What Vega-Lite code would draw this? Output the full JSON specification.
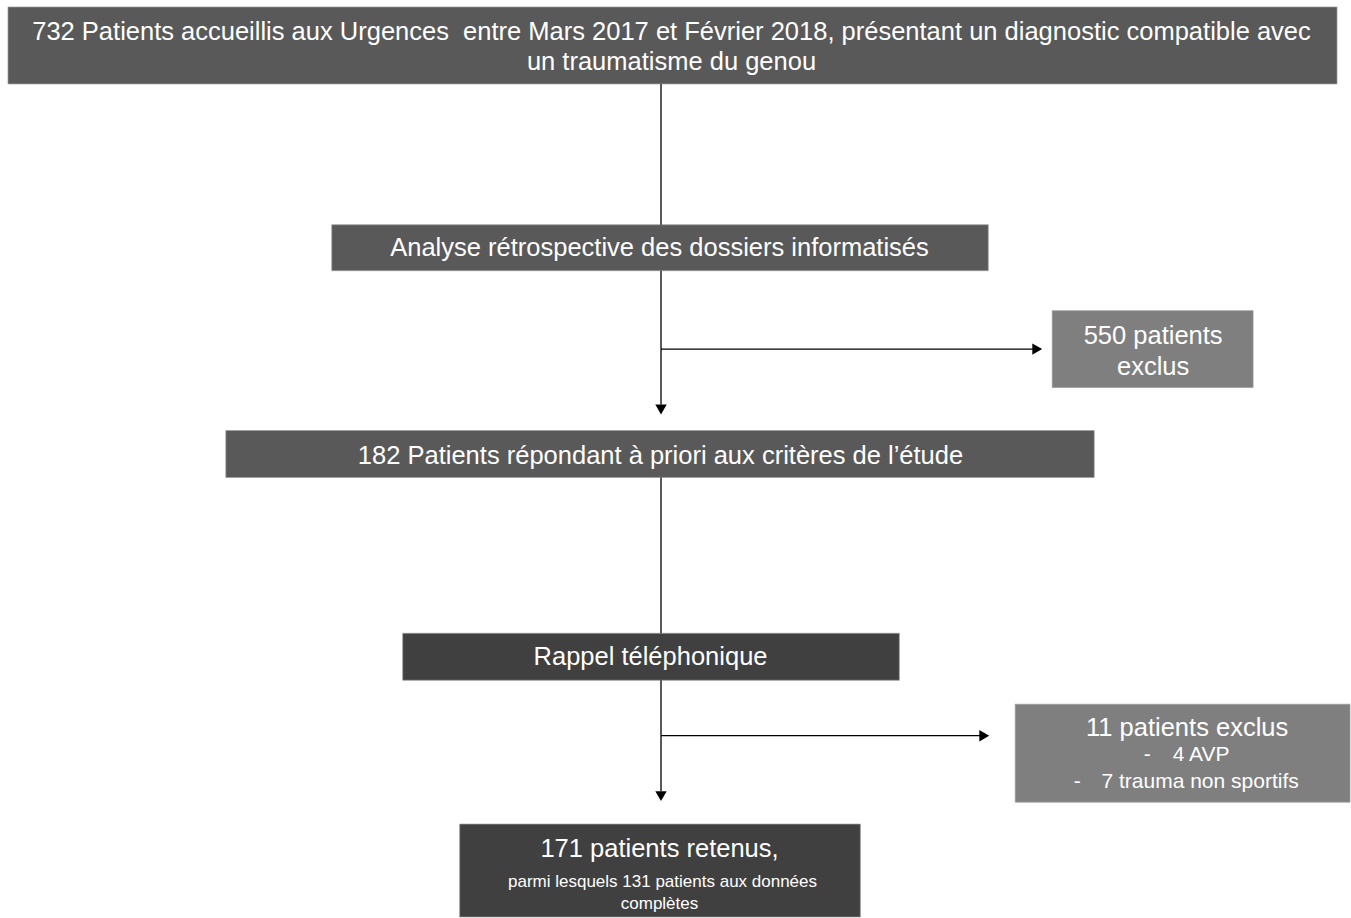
{
  "$schema": "https://vega.github.io/schema/vega-lite/v6.json",
  "width": 1351,
  "height": 918,
  "autosize": {"type": "fit", "contains": "padding"},
  "padding": 0,
  "background": "white",
  "config": {"view": {"stroke": null}},
  "datasets": {
    "boxes": [
      {"id": "top", "x1": 8, "x2": 1338, "y1": 7, "y2": 84, "fill": "#595959"},
      {"id": "analyse", "x1": 332, "x2": 989, "y1": 225, "y2": 271, "fill": "#595959"},
      {"id": "excl550", "x1": 1053, "x2": 1254, "y1": 311, "y2": 388, "fill": "#7f7f7f"},
      {"id": "p182", "x1": 226, "x2": 1095, "y1": 431, "y2": 478, "fill": "#595959"},
      {"id": "rappel", "x1": 403, "x2": 900, "y1": 634, "y2": 681, "fill": "#404040"},
      {"id": "excl11", "x1": 1016, "x2": 1351, "y1": 705, "y2": 803, "fill": "#7f7f7f"},
      {"id": "p171", "x1": 460, "x2": 861, "y1": 825, "y2": 918, "fill": "#404040"}
    ],
    "lines": [
      {"x1": 661.5, "x2": 661.5, "y1": 84, "y2": 225},
      {"x1": 661.5, "x2": 661.5, "y1": 271, "y2": 405},
      {"x1": 661.5, "x2": 1035, "y1": 349.5, "y2": 349.5},
      {"x1": 661.5, "x2": 661.5, "y1": 478, "y2": 634},
      {"x1": 661.5, "x2": 661.5, "y1": 681, "y2": 792},
      {"x1": 661.5, "x2": 982, "y1": 736.5, "y2": 736.5}
    ],
    "arrows": [
      {"x": 661.5, "y": 410, "dir": "down"},
      {"x": 1038, "y": 349.5, "dir": "right"},
      {"x": 661.5, "y": 797, "dir": "down"},
      {"x": 985, "y": 736.5, "dir": "right"}
    ],
    "labels": [
      {"x": 672, "y": 32, "text": "732 Patients accueillis aux Urgences \u00a0entre Mars 2017 et Février 2018, présentant un diagnostic compatible avec", "size": 25.5},
      {"x": 672, "y": 62, "text": "un traumatisme du genou", "size": 25.5},
      {"x": 660, "y": 248, "text": "Analyse rétrospective des dossiers informatisés", "size": 25.5},
      {"x": 1154, "y": 336, "text": "550 patients", "size": 25.5},
      {"x": 1154, "y": 367, "text": "exclus", "size": 25.5},
      {"x": 661, "y": 456, "text": "182 Patients répondant à priori aux critères de l’étude", "size": 25.5},
      {"x": 651, "y": 658, "text": "Rappel téléphonique", "size": 25.5},
      {"x": 1188, "y": 729, "text": "11 patients exclus", "size": 25.5},
      {"x": 1148, "y": 756, "text": "-", "size": 21},
      {"x": 1202, "y": 756, "text": "4 AVP", "size": 21},
      {"x": 1078, "y": 783, "text": "-", "size": 21},
      {"x": 1201, "y": 783, "text": "7 trauma non sportifs", "size": 21},
      {"x": 660, "y": 850, "text": "171 patients retenus,", "size": 25.5},
      {"x": 663, "y": 883, "text": "parmi lesquels 131 patients aux données", "size": 17},
      {"x": 660, "y": 905, "text": "complètes", "size": 17}
    ]
  },
  "layer": [
    {
      "data": {"name": "boxes"},
      "mark": {"type": "rect", "stroke": "#9a9a9a", "strokeWidth": 0.7},
      "encoding": {
        "x": {"field": "x1", "type": "quantitative", "scale": {"domain": [0, 1351], "nice": false, "zero": false}, "axis": null},
        "x2": {"field": "x2"},
        "y": {"field": "y1", "type": "quantitative", "scale": {"domain": [918, 0], "nice": false, "zero": false}, "axis": null},
        "y2": {"field": "y2"},
        "fill": {"field": "fill", "type": "nominal", "scale": null, "legend": null}
      }
    },
    {
      "data": {"name": "lines"},
      "mark": {"type": "rule", "color": "black", "strokeWidth": 1.3},
      "encoding": {
        "x": {"field": "x1", "type": "quantitative"},
        "x2": {"field": "x2"},
        "y": {"field": "y1", "type": "quantitative"},
        "y2": {"field": "y2"}
      }
    },
    {
      "data": {"name": "arrows"},
      "mark": {"type": "point", "filled": true, "color": "black", "opacity": 1, "size": 130},
      "encoding": {
        "x": {"field": "x", "type": "quantitative"},
        "y": {"field": "y", "type": "quantitative"},
        "shape": {"field": "dir", "type": "nominal", "scale": {"domain": ["down", "right"], "range": ["triangle-down", "triangle-right"]}, "legend": null}
      }
    },
    {
      "data": {"name": "labels"},
      "mark": {"type": "text", "color": "white", "font": "Liberation Sans", "align": "center", "baseline": "middle"},
      "encoding": {
        "x": {"field": "x", "type": "quantitative"},
        "y": {"field": "y", "type": "quantitative"},
        "text": {"field": "text", "type": "nominal"},
        "size": {"field": "size", "type": "quantitative", "scale": null, "legend": null}
      }
    }
  ]
}
